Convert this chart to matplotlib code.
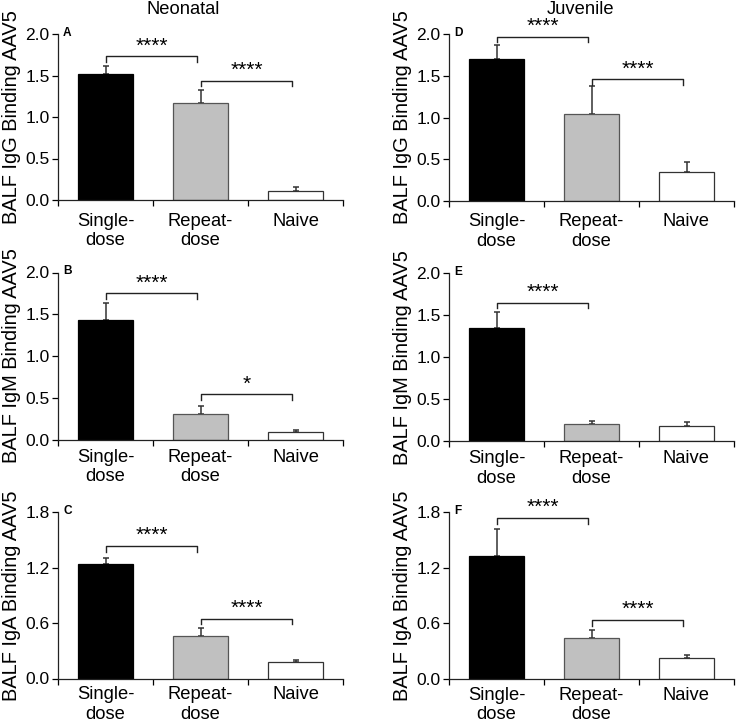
import matplotlib.pyplot as plt
from matplotlib.ticker import FormatStrFormatter

plt.rcParams['font.family'] = ['Liberation Sans', 'DejaVu Sans']

W, H = 738, 725

groups = ['Single-\ndose', 'Repeat-\ndose', 'Naive']
bar_colors = ['black', '#c0c0c0', 'white']
edge_colors = ['black', '#555555', '#333333']

# Neonatal column
neo_igg = [1.52, 1.17, 0.11]
neo_igg_err = [0.09, 0.15, 0.05]
neo_igm = [1.43, 0.30, 0.095]
neo_igm_err = [0.20, 0.10, 0.015]
neo_iga = [1.24, 0.46, 0.177]
neo_iga_err = [0.07, 0.09, 0.018]

# Juvenile column
juv_igg = [1.70, 1.04, 0.34]
juv_igg_err = [0.17, 0.34, 0.13]
juv_igm = [1.35, 0.206, 0.183]
juv_igm_err = [0.19, 0.032, 0.05]
juv_iga = [1.325, 0.44, 0.223]
juv_iga_err = [0.295, 0.086, 0.04]

# significance brackets: (from, to, height, label)
neo_igg_sig = [(0, 1, 1.73, '****'), (1, 2, 1.437, '****')]
neo_igm_sig = [(0, 1, 1.75, '****'), (1, 2, 0.54, '*')]
neo_iga_sig = [(0, 1, 1.435, '****'), (1, 2, 0.647, '****')]
juv_igg_sig = [(0, 1, 1.97, '****'), (1, 2, 1.46, '****')]
juv_igm_sig = [(0, 1, 1.65, '****')]
juv_iga_sig = [(0, 1, 1.74, '****'), (1, 2, 0.637, '****')]

ticks_20 = [0.0, 0.5, 1.0, 1.5, 2.0]
ticks_18 = [0.0, 0.6, 1.2, 1.8]


def px_rect(l, t, r, b):
    return [l / W, 1 - b / H, (r - l) / W, (b - t) / H]


def draw_panel(ax, vals, errs, sig, ylabel, yticks, letter, xpad):
    x = range(len(groups))
    ax.bar(x, vals, width=0.58, color=bar_colors, edgecolor=edge_colors,
           linewidth=0.9, zorder=2)
    ax.errorbar(x, vals, yerr=[[0] * len(errs), errs], fmt='none',
                ecolor='#333333', elinewidth=1.1, capsize=2.2, capthick=1.1,
                zorder=1)
    ymax = yticks[-1]
    leg = 0.034 * ymax
    for i, j, y, lab in sig:
        x0, x1 = i + 0.01, j - 0.035
        ax.plot([x0, x0, x1, x1], [y - leg, y, y, y - leg], color='#222222',
                lw=1.0, clip_on=False)
        ax.text((x0 + x1) / 2, y + 0.005 * ymax, lab, ha='center', va='bottom',
                fontsize=15)
    ax.set_xlim(-0.5, 2.5)
    ax.set_ylim(0, ymax)
    ax.set_yticks(yticks)
    ax.yaxis.set_major_formatter(FormatStrFormatter('%.1f'))
    ax.set_xticks(list(x))
    ax.set_xticklabels(groups, fontsize=13.2, linespacing=1.2)
    ax.set_xticks([-0.5, 0.5, 1.5, 2.5], minor=True)
    ax.tick_params(axis='x', which='major', length=0, pad=xpad)
    ax.tick_params(axis='x', which='minor', length=4, width=0.9, direction='out')
    ax.tick_params(axis='y', length=4, width=0.9, labelsize=12.5, pad=2)
    ax.set_ylabel(ylabel, fontsize=14.4)
    ax.yaxis.set_label_coords(-0.131, 0.5)
    for s in ['top', 'right']:
        ax.spines[s].set_visible(False)
    for s in ['left', 'bottom']:
        ax.spines[s].set_linewidth(0.9)
        ax.spines[s].set_color('#222222')
    ax.text(0.018, 1.009, letter, transform=ax.transAxes, fontsize=8.6,
            fontweight='bold', ha='left', va='center')


fig = plt.figure(figsize=(W / 100, H / 100), dpi=100)

axA = fig.add_axes(px_rect(58, 34, 343, 200))
axB = fig.add_axes(px_rect(58, 272.5, 343, 439.5))
axC = fig.add_axes(px_rect(58, 512.3, 343, 678.5))
axD = fig.add_axes(px_rect(449, 34.3, 734, 200.7))
axE = fig.add_axes(px_rect(449, 273.3, 734, 441.3))
axF = fig.add_axes(px_rect(449, 512.3, 734, 679))

draw_panel(axA, neo_igg, neo_igg_err, neo_igg_sig, 'BALF IgG Binding AAV5', ticks_20, 'A', 9)
draw_panel(axB, neo_igm, neo_igm_err, neo_igm_sig, 'BALF IgM Binding AAV5', ticks_20, 'B', 6.5)
draw_panel(axC, neo_iga, neo_iga_err, neo_iga_sig, 'BALF IgA Binding AAV5', ticks_18, 'C', 5.5)
draw_panel(axD, juv_igg, juv_igg_err, juv_igg_sig, 'BALF IgG Binding AAV5', ticks_20, 'D', 9)
draw_panel(axE, juv_igm, juv_igm_err, juv_igm_sig, 'BALF IgM Binding AAV5', ticks_20, 'E', 6.5)
draw_panel(axF, juv_iga, juv_iga_err, juv_iga_sig, 'BALF IgA Binding AAV5', ticks_18, 'F', 5.5)

fig.text(183.5 / W, 1 - 10 / H, 'Neonatal', ha='center', va='center', fontsize=13.2)
fig.text(581 / W, 1 - 10 / H, 'Juvenile', ha='center', va='center', fontsize=13.2)

fig.savefig('out.png', dpi=100)
